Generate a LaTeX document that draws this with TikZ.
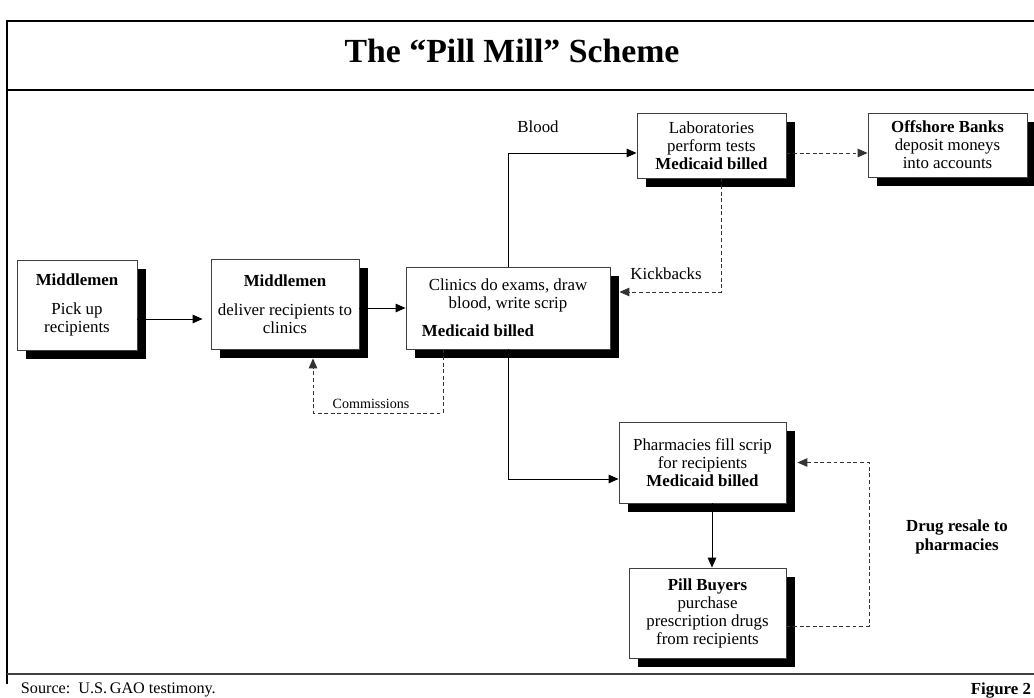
\documentclass[tikz,border=0pt]{standalone}
\usepackage{fontspec}
\setmainfont{Liberation Serif}
\usetikzlibrary{arrows.meta,shadows,calc}

\begin{document}
\begin{tikzpicture}
  [x=0.025cm,y=-0.025cm,
   font=\fontsize{12}{12.8}\selectfont,
   box/.style={draw=black!75, line width=.6pt, fill=white, inner sep=0pt, align=center,
     drop shadow={shadow xshift=.22cm, shadow yshift=-.22cm, fill=black, opacity=1}},
   arr/.style={line width=.7pt, -{Triangle[length=7pt,width=6pt]}},
   dasharr/.style={line width=.6pt, black!80, dash pattern=on 2.8pt off 1.9pt, -{Triangle[length=7pt,width=6pt]}},
   frameline/.style={line width=1.4pt}]
  \useasboundingbox (0,0) rectangle (1034,698);

  % frame
  \draw[frameline] (7,684) -- (7,21) -- (1034,21);
  \draw[line width=1pt] (7,90) -- (1034,90);
  \draw[line width=1.1pt, black!75] (7,674) -- (1034,674);
  \node[font=\bfseries\fontsize{24}{28}\selectfont, anchor=base] (title) at (512,62) {The ``Pill Mill'' Scheme};

  % boxes
  \node[box, minimum width=3cm, minimum height=2.25cm] (pick) at (77,305)
    {\textbf{Middlemen}\\[8pt] Pick up\\ recipients};
  \node[box, minimum width=3.7cm, minimum height=2.25cm] (deliver) at (285,304)
    {\textbf{Middlemen}\\[8pt] deliver recipients to\\ clinics};
  \node[box, minimum width=5.1cm, minimum height=2.05cm] (clinic) at (508,308)
    {Clinics do exams, draw\\ blood, write scrip\\[7pt] \textbf{Medicaid billed}\hspace*{1.5cm}};
  \node[box, minimum width=3.725cm, minimum height=1.625cm] (lab) at (711.5,145.5)
    {Laboratories\\ perform tests\\ \textbf{Medicaid billed}};
  \node[box, minimum width=3.975cm, minimum height=1.6cm] (bank) at (947.5,145)
    {\textbf{Offshore Banks}\\ deposit moneys\\ into accounts};
  \node[box, minimum width=4.175cm, minimum height=2.025cm] (pharm) at (702.5,462.5)
    {Pharmacies fill scrip\\ for recipients\\ \textbf{Medicaid billed}};
  \node[box, minimum width=3.925cm, minimum height=2.25cm] (buyer) at (707.5,613)
    {\textbf{Pill Buyers}\\ purchase\\ prescription drugs\\ from recipients};

  % labels
  \node (blood) at (538,127) {Blood};
  \node (kick) at (666,274) {Kickbacks};
  \node[font=\fontsize{10}{12}\selectfont] (comm) at (371,404) {Commissions};
  \node[font=\fontsize{12}{13.5}\selectfont\bfseries, align=center] (resale) at (957,537) {Drug resale to\\ pharmacies};
  \node[anchor=west, font=\fontsize{11.5}{13}\selectfont] (src) at (16,690) {Source:\ \ U.S.\,GAO testimony.};
  \node[anchor=east, font=\bfseries\fontsize{12}{13}\selectfont] (fig) at (1036,690) {Figure 2};

  % connectors
  \draw[arr] (pick.east |- 0,319) -- ($(deliver.west |- 0,319)+(-8,0)$);
  \draw[arr] (deliver.east |- clinic.west) -- (clinic.west);
  \draw[arr] (clinic.north) |- (lab.west |- 0,153);
  \draw[arr] (clinic.south) |- (pharm.west |- 0,479);
  \draw[arr] (712,0 |- pharm.south) -- (712,0 |- buyer.north);
  \draw[dasharr] (lab.east |- 0,153) -- (bank.west |- 0,153);
  \draw[dasharr] (721,0 |- lab.south) |- ($(clinic.east)+(9,-16)$);
  \draw[dasharr] (443,0 |- clinic.south) |- (313,413) -- ($(313,0 |- deliver.south)+(0,9)$);
  \draw[dasharr] (buyer.east |- 0,626) -| (869,0 |- pharm.east) -- ($(pharm.east)+(11,0)$);
\end{tikzpicture}
\end{document}
